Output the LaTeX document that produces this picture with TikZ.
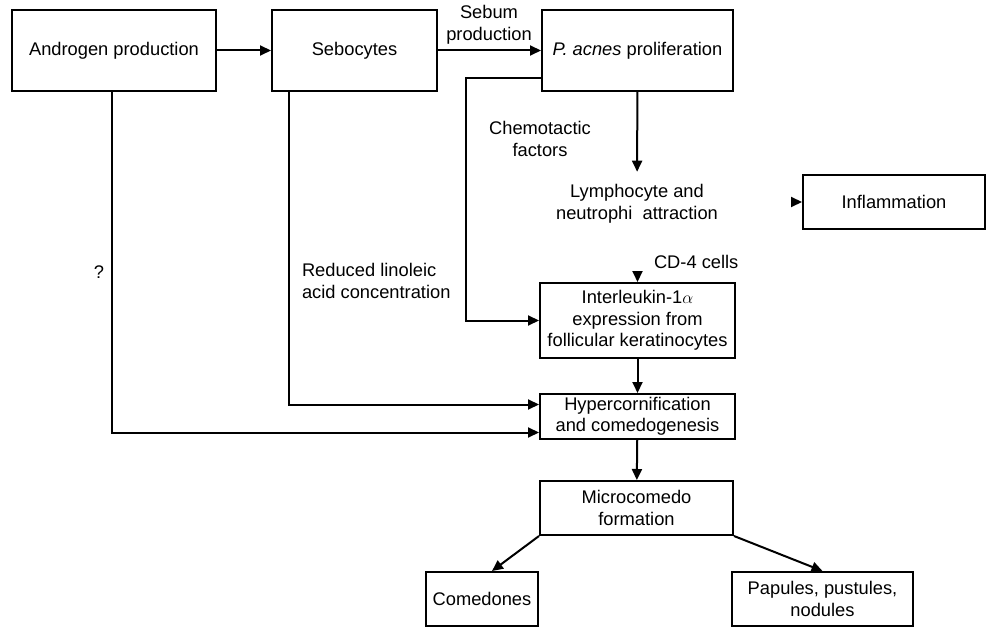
\documentclass[tikz,border=0pt]{standalone}
\usepackage{fontspec}
\setmainfont{Liberation Sans}
\usetikzlibrary{arrows.meta}

\begin{document}
\begin{tikzpicture}[x=1pt,y=-1pt,line width=2pt,
    >={Triangle[length=11pt,width=10pt]},
    every node/.style={font=\fontsize{18.3}{21.5}\selectfont,align=center},
    box/.style={draw,inner sep=0pt},
    lbl/.style={inner sep=0pt}]
    \useasboundingbox (0,0) rectangle (987,628);

    % top row
    \node[box,minimum width=204,minimum height=81] (andro) at (114,50.5) {Androgen production};
    \node[box,minimum width=165,minimum height=81] (sebo) at (354.5,50.5) {Sebocytes};
    \node[box,minimum width=191,minimum height=81] (pacnes) at (637.5,50.5) {\textit{P. acnes} proliferation};
    \node[lbl] (sebum) at (489,25) {Sebum\\production};
    \draw[->] (andro) -- (sebo);
    \draw[->] (sebo) -- (pacnes);

    % inflammation branch
    \node[lbl] (chemo) at (540,139) {Chemotactic\\factors};
    \node[lbl,inner ysep=12pt] (lymph) at (637,204) {Lymphocyte and\\neutrophi\ \ attraction};
    \node[box,minimum width=182,minimum height=54] (inflam) at (894,202) {Inflammation};
    \coordinate (inflin) at (791,202);
    \draw[->] (pacnes) -- (lymph);
    \draw[->] (inflin) -- (inflam.west);

    % interleukin and hypercornification
    \node[box,minimum width=195,minimum height=75] (il1) at (637.5,320.5) {Interleukin-1$\alpha$\\expression from\\follicular keratinocytes};
    \node[box,minimum width=195,minimum height=45] (hyper) at (637.5,416.5) {Hypercornification\\and comedogenesis};
    \node[lbl,anchor=west] (cd4) at (653,262) {CD-4 cells};
    \node[lbl] (quest) at (99,272) {?};
    \node[lbl,anchor=west,align=left] (linol) at (301,281) {Reduced linoleic\\acid concentration};
    \coordinate (cd4in) at (637.5,272);
    \draw[->] (cd4in) -- (il1.north);
    \draw[->] ([yshift=14pt]pacnes.south west) -- ++(-75,0) |- (il1.west);
    \draw[->] (il1) -- (hyper);
    \draw[->] ([xshift=-65.5pt]sebo.south) |- ([yshift=12pt]hyper.west);
    \draw[->] ([xshift=-2pt]andro.south) |- ([yshift=-16pt]hyper.west);

    % lesions
    \node[box,minimum width=193,minimum height=54] (micro) at (636.5,508) {Microcomedo\\formation};
    \node[box,minimum width=112,minimum height=54] (comed) at (482,599) {Comedones};
    \node[box,minimum width=181,minimum height=54] (papul) at (822.5,599) {Papules, pustules,\\nodules};
    \draw[->] (hyper) -- (micro);
    \draw[->] (micro.south west) -- ([xshift=10pt]comed.north);
    \draw[->] (micro.south east) -- (papul.north);
\end{tikzpicture}
\end{document}
